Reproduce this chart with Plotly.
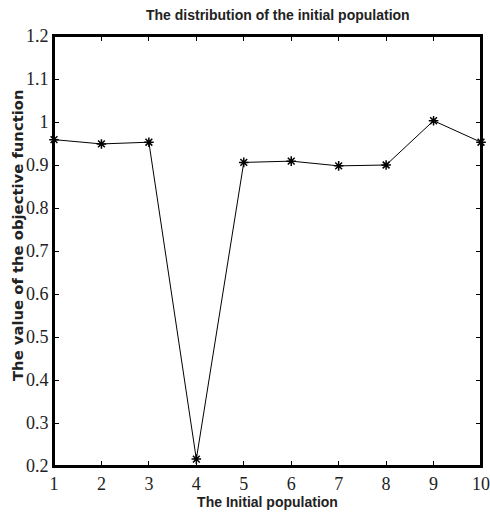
import plotly.graph_objects as go

population = [1, 2, 3, 4, 5, 6, 7, 8, 9, 10]
objective = [0.959, 0.949, 0.953, 0.216, 0.906, 0.909, 0.898, 0.900, 1.003, 0.953]
x_ticks = [1, 2, 3, 4, 5, 6, 7, 8, 9, 10]
y_ticks = [0.2, 0.3, 0.4, 0.5, 0.6, 0.7, 0.8, 0.9, 1.0, 1.1, 1.2]
y_labels = ["0.2", "0.3", "0.4", "0.5", "0.6", "0.7", "0.8", "0.9", "1", "1.1", "1.2"]

fig = go.Figure()
fig.add_trace(go.Scatter(
    x=population, y=objective, mode="lines+markers",
    line=dict(color="black", width=1),
    marker=dict(symbol="asterisk-open", size=8, color="black",
                line=dict(color="black", width=1.5)),
    cliponaxis=False, showlegend=False,
))

tickfont = dict(family="Liberation Serif", size=18, color="#222")
narrow = "Liberation Sans Narrow, Liberation Sans"
fig.update_layout(
    width=490, height=514,
    margin=dict(l=54, r=9, t=36, b=48),
    paper_bgcolor="white", plot_bgcolor="white",
    title=dict(text="<b>The distribution of the initial population</b>",
               x=0.567, xanchor="center", y=0.971, yanchor="middle",
               font=dict(family=narrow, size=14, color="#222")),
    xaxis=dict(range=[1, 10], tickvals=x_ticks, ticks="inside", ticklen=5,
               tickcolor="black", mirror="ticks", showline=True, linecolor="black",
               linewidth=2, showgrid=False, zeroline=False, tickfont=tickfont,
               ticklabeloverflow="allow", automargin=False,
               title=dict(text="<b>The Initial population</b>", standoff=0,
                          font=dict(family=narrow, size=14, color="#222"))),
    yaxis=dict(range=[0.2, 1.2], tickvals=y_ticks, ticktext=y_labels, ticks="inside",
               ticklen=5, tickcolor="black", mirror="ticks", showline=True,
               linecolor="black", linewidth=2, showgrid=False, zeroline=False,
               tickfont=tickfont, automargin=False, ticklabeloverflow="allow"),
    shapes=[dict(type="rect", xref="paper", yref="paper", x0=0, x1=1, y0=0, y1=1,
                 line=dict(color="black", width=2), layer="above")],
    annotations=[dict(
        text="<b>The value of the objective function</b>", textangle=-90,
        xref="paper", yref="paper", x=-54 / 427 + 17 / 427, y=(466 - 235) / 430,
        xanchor="center", yanchor="middle", showarrow=False,
        font=dict(family="DejaVu Sans", size=14.8, color="#222"))],
)
fig.write_html(
    "out.html", config={"displayModeBar": False},
    post_script=("document.body.style.margin='0px';"
                 "document.body.style.overflow='hidden';"
                 "document.documentElement.style.overflow='hidden';"),
)
